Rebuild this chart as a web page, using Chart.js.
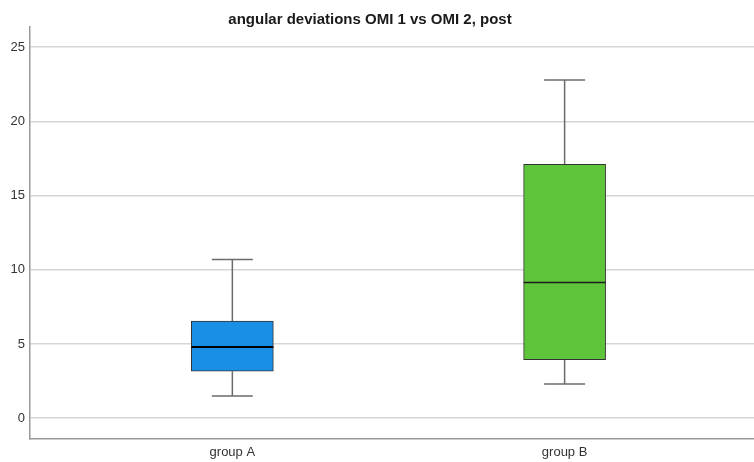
<!DOCTYPE html>
<html>
<head>
<meta charset="utf-8">
<script src="https://cdn.jsdelivr.net/npm/chart.js@4/dist/chart.umd.min.js"></script>
<style>
  html, body { margin: 0; padding: 0; background: #fff; }
  canvas { display: block; }
</style>
</head>
<body>
<canvas id="myChart" width="754" height="462"></canvas>
<script>
// data
const chartTitle = "angular deviations OMI 1 vs OMI 2, post";
const groups = ["group A", "group B"];
const whiskerLow = [1.5, 2.3];
const q1 = [3.17, 3.95];
const median = [4.8, 9.14];
const q3 = [6.54, 17.1];
const whiskerHigh = [10.69, 22.78];
const yTicks = [0, 5, 10, 15, 20, 25];
const boxColors = ["#1a8fe6", "#5ec43a"];

// whiskers + caps under the boxes, median on top, title
const boxPlotExtras = {
  id: "boxPlotExtras",
  beforeDatasetsDraw(chart) {
    const ctx = chart.ctx;
    const xs = chart.scales.x;
    const ys = chart.scales.y;
    ctx.save();
    ctx.strokeStyle = "#6b6b6b";
    ctx.lineWidth = 1.5;
    for (let i = 0; i < groups.length; i++) {
      const x = xs.getPixelForValue(i);
      const capHalf = 20.5;
      ctx.beginPath();
      ctx.moveTo(x, ys.getPixelForValue(whiskerHigh[i]));
      ctx.lineTo(x, ys.getPixelForValue(q3[i]));
      ctx.moveTo(x, ys.getPixelForValue(q1[i]));
      ctx.lineTo(x, ys.getPixelForValue(whiskerLow[i]));
      ctx.moveTo(x - capHalf, ys.getPixelForValue(whiskerHigh[i]));
      ctx.lineTo(x + capHalf, ys.getPixelForValue(whiskerHigh[i]));
      ctx.moveTo(x - capHalf, ys.getPixelForValue(whiskerLow[i]));
      ctx.lineTo(x + capHalf, ys.getPixelForValue(whiskerLow[i]));
      ctx.stroke();
    }
    ctx.restore();
  },
  afterDatasetsDraw(chart) {
    const ctx = chart.ctx;
    const xs = chart.scales.x;
    const ys = chart.scales.y;
    ctx.save();
    for (let i = 0; i < groups.length; i++) {
      const x = xs.getPixelForValue(i);
      const y = ys.getPixelForValue(median[i]);
      ctx.strokeStyle = i === 0 ? "#000" : "#1e1e1e";
      ctx.lineWidth = i === 0 ? 2 : 1.5;
      ctx.beginPath();
      ctx.moveTo(x - 41, y);
      ctx.lineTo(x + 41, y);
      ctx.stroke();
    }
    ctx.restore();
  },
  afterDraw(chart) {
    const ctx = chart.ctx;
    ctx.save();
    ctx.font = "bold 15px 'Liberation Sans', Arial, sans-serif";
    ctx.fillStyle = "#1a1a1a";
    ctx.textAlign = "center";
    ctx.textBaseline = "alphabetic";
    ctx.fillText(chartTitle, 370, 24);
    ctx.restore();
  }
};

const data = {
  datasets: [
    {
      type: "bar",
      data: groups.map((g, i) => ({ x: i, y: [q1[i], q3[i]] })),
      backgroundColor: boxColors,
      borderColor: "#333",
      borderWidth: 1,
      borderSkipped: false,
      barThickness: 82,
    },
  ],
};

const config = {
  type: "bar",
  data,
  options: {
    responsive: false,
    animation: false,
    layout: { padding: { top: 27, left: 0, right: 0, bottom: 0 } },
    plugins: {
      legend: { display: false },
      tooltip: { enabled: false },
      title: { display: false },
    },
    scales: {
      x: {
        type: "linear",
        offset: false,
        min: -0.609,
        max: 1.57,
        afterBuildTicks: (scale) => {
          scale.ticks = groups.map((g, i) => ({ value: i }));
        },
        afterFit: (scale) => {
          scale.height = 23;
        },
        ticks: {
          callback: (v) => groups[v],
          color: "#333",
          font: { family: "'Liberation Sans', Arial, sans-serif", size: 13 },
          padding: 6,
          maxRotation: 0,
          autoSkip: false,
        },
        grid: { display: false, drawTicks: false },
        border: { display: true, color: "#9a9a9a", width: 1.5 },
      },
      y: {
        type: "linear",
        min: -1.4,
        max: 26.35,
        afterBuildTicks: (scale) => {
          scale.ticks = yTicks.map((v) => ({ value: v }));
        },
        afterFit: (scale) => {
          scale.width = 30;
        },
        ticks: {
          color: "#333",
          font: { family: "'Liberation Sans', Arial, sans-serif", size: 13 },
          padding: 5,
        },
        grid: { color: "#d6d6d6", lineWidth: 1.5, drawTicks: false },
        border: { display: true, color: "#9a9a9a", width: 1.5 },
      },
    },
  },
  plugins: [boxPlotExtras],
};

const myChart = new Chart(document.querySelector("#myChart"), config);
</script>
</body>
</html>
